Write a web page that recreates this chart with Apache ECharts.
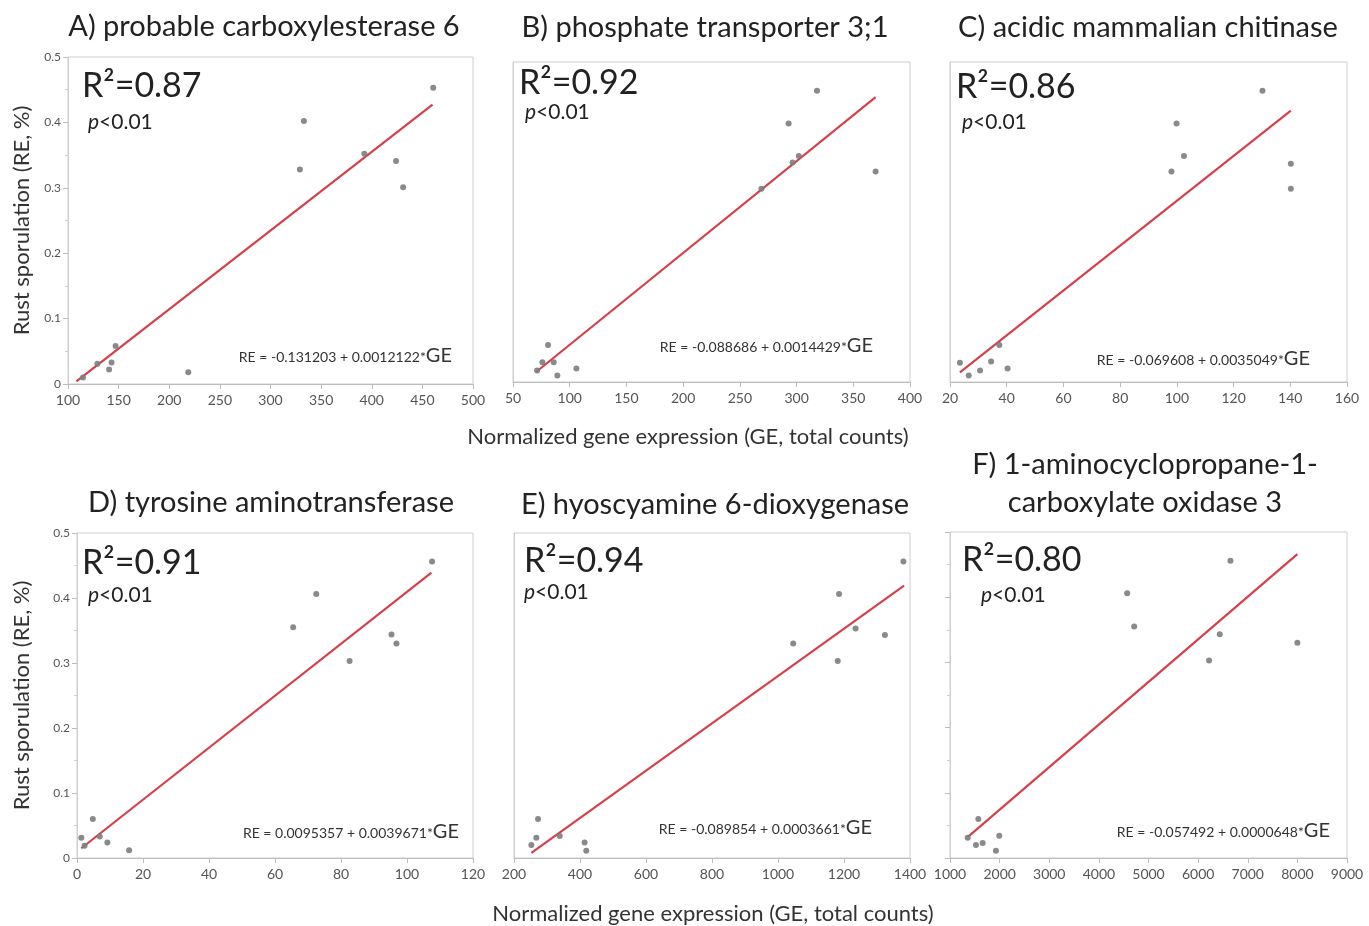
<!DOCTYPE html>
<html>
<head>
<meta charset="utf-8">
<title>Rust sporulation vs gene expression</title>
<script src="https://cdn.jsdelivr.net/npm/echarts@6/dist/echarts.min.js"></script>
<style>
  html, body { margin: 0; padding: 0; background: #fff; }
  #chart { width: 1369px; height: 926px; }
</style>
</head>
<body>
<div id="chart"></div>
<script>
// panel data (GE = x, RE = y)
var titles = ['A) probable carboxylesterase 6', 'B) phosphate transporter 3;1', 'C) acidic mammalian chitinase',
              'D) tyrosine aminotransferase', 'E) hyoscyamine 6-dioxygenase', 'F) 1-aminocyclopropane-1-\ncarboxylate oxidase 3'];
var r2Labels = ['0.87', '0.92', '0.86', '0.91', '0.94', '0.80'];
var equations = ['RE = -0.131203 + 0.0012122*', 'RE = -0.088686 + 0.0014429*', 'RE = -0.069608 + 0.0035049*',
                 'RE = 0.0095357 + 0.0039671*', 'RE = -0.089854 + 0.0003661*', 'RE = -0.057492 + 0.0000648*'];

var geA = [114.8, 129, 140.6, 143, 147, 218.8, 329, 333, 392.7, 424, 431, 460.7];
var reA = [0.010, 0.031, 0.022, 0.033, 0.058, 0.018, 0.328, 0.402, 0.352, 0.341, 0.301, 0.453];
var geB = [71.2, 75.9, 80.9, 85.9, 89.1, 105.9, 269, 293, 296.5, 302, 318, 369.7];
var reB = [0.018, 0.031, 0.058, 0.031, 0.010, 0.021, 0.302, 0.404, 0.343, 0.353, 0.455, 0.329];
var geC = [23.5, 26.6, 30.6, 34.5, 37.4, 40.3, 98.1, 99.9, 102.5, 130.2, 140.2, 140.2];
var reC = [0.030, 0.010, 0.018, 0.032, 0.058, 0.021, 0.329, 0.404, 0.353, 0.455, 0.341, 0.302];
var geD = [1.3, 2.3, 4.8, 6.9, 9.2, 15.8, 65.5, 72.5, 82.6, 95.3, 96.8, 107.6];
var reD = [0.031, 0.019, 0.060, 0.033, 0.024, 0.012, 0.355, 0.406, 0.303, 0.344, 0.330, 0.456];
var geE = [252.6, 267.7, 272.8, 338.5, 414, 419, 1046, 1181, 1185, 1235, 1324, 1380];
var reE = [0.020, 0.031, 0.060, 0.034, 0.024, 0.011, 0.330, 0.303, 0.406, 0.353, 0.343, 0.456];
var geF = [1356, 1523, 1570, 1658, 1926, 1993, 4570, 4711, 6220, 6436, 6651, 8000];
var reF = [0.031, 0.020, 0.060, 0.023, 0.011, 0.034, 0.406, 0.355, 0.303, 0.343, 0.456, 0.330];

// fitted line end points
var fitA = [[108.3, 0.004], [460, 0.427]];
var fitB = [[70.6, 0.016], [369.7, 0.445]];
var fitC = [[23.5, 0.015], [140.2, 0.424]];
var fitD = [[1.3, 0.015], [107.4, 0.439]];
var fitE = [[252.6, 0.008], [1382, 0.419]];
var fitF = [[1356, 0.032], [8000, 0.466]];

// x axis ticks: min, max, step
var xMins = [100, 50, 20, 0, 200, 1000];
var xMaxs = [500, 400, 160, 120, 1400, 9000];
var xSteps = [50, 50, 20, 20, 200, 1000];

var geAll = [geA, geB, geC, geD, geE, geF];
var reAll = [reA, reB, reC, reD, reE, reF];
var fitAll = [fitA, fitB, fitC, fitD, fitE, fitF];

var chart = echarts.init(document.getElementById('chart'));
var FONT = 'Lato, "Open Sans", sans-serif';

// plot boxes
var grids = [
    { left: 68, top: 57, width: 405, height: 327 },
    { left: 513, top: 62, width: 397, height: 320 },
    { left: 950, top: 62, width: 397, height: 320 },
    { left: 77, top: 533, width: 396, height: 325 },
    { left: 514, top: 533, width: 396, height: 325 },
    { left: 950, top: 532, width: 397, height: 326 }
];
// text anchors per panel
var titlePos = [[264, 27], [705, 28], [1148, 28], [271, 503], [715, 505], [1145, 484]];
var r2Pos = [[82, 86], [519, 83], [956, 87], [82, 563], [524, 561], [962, 560]];
var pPos = [[88, 122], [525, 112], [962, 122], [88, 595], [524, 592], [981, 595]];
var eqPos = [[452, 356], [873, 346], [1310, 359], [459, 832], [872, 828], [1330, 831]];

var xAxes = [], yAxes = [], series = [], graphics = [];

for (var i = 0; i < 6; i++) {
    grids[i].show = true;
    grids[i].borderColor = '#cfcfcf';
    grids[i].borderWidth = 1;
    grids[i].containLabel = false;

    xAxes.push({
        gridIndex: i, type: 'value',
        min: xMins[i], max: xMaxs[i], interval: xSteps[i],
        axisLine: { show: true, lineStyle: { color: '#bdbdbd' } },
        axisTick: { show: true, length: 5, lineStyle: { color: '#bdbdbd' } },
        axisLabel: {
            fontSize: 14, color: '#555', fontFamily: FONT, margin: 9,
            formatter: function (v) { return String(v); }
        },
        splitLine: { show: false }
    });

    var withLabels = (i == 0 || i == 3);
    var withTicks = (i == 0 || i == 3 || i == 5);
    yAxes.push({
        gridIndex: i, type: 'value', min: 0, max: 0.5, interval: 0.1,
        name: withLabels ? 'Rust sporulation (RE, %)' : '',
        nameLocation: 'middle', nameGap: i == 0 ? 35 : 44,
        nameTextStyle: { fontSize: 22, color: '#333', fontFamily: FONT },
        axisLine: { show: true, lineStyle: { color: '#cfcfcf' } },
        axisTick: { show: withTicks, length: 5, lineStyle: { color: '#bdbdbd' } },
        minorTick: { show: withTicks, splitNumber: 2, length: 3, lineStyle: { color: '#cfcfcf' } },
        axisLabel: { show: withLabels, fontSize: 12, color: '#555', fontFamily: FONT, margin: 7 },
        splitLine: { show: false }
    });

    var pts = [];
    for (var k = 0; k < geAll[i].length; k++) {
        pts.push([geAll[i][k], reAll[i][k]]);
    }
    series.push({
        type: 'scatter', xAxisIndex: i, yAxisIndex: i,
        data: pts, symbolSize: 6,
        itemStyle: { color: '#7d7d7d', opacity: 0.9 },
        z: 3
    });
    series.push({
        type: 'line', xAxisIndex: i, yAxisIndex: i,
        data: fitAll[i], showSymbol: false, symbol: 'none',
        lineStyle: { color: '#d6404c', width: 2.2 },
        z: 2
    });

    graphics.push({
        type: 'text', x: titlePos[i][0], y: titlePos[i][1],
        style: { text: titles[i], font: '29px ' + FONT, fill: '#222', align: 'center', verticalAlign: 'middle', lineHeight: 38 }
    });
    graphics.push({
        type: 'text', x: r2Pos[i][0], y: r2Pos[i][1],
        style: { text: 'R²=' + r2Labels[i], font: '34px ' + FONT, fill: '#222', align: 'left', verticalAlign: 'middle' }
    });
    graphics.push({
        type: 'text', x: pPos[i][0], y: pPos[i][1],
        style: {
            text: '{i|p}{n|<0.01}', align: 'left', verticalAlign: 'middle',
            rich: {
                i: { font: 'italic 21px ' + FONT, fill: '#222' },
                n: { font: '21px ' + FONT, fill: '#222' }
            }
        }
    });
    graphics.push({
        type: 'text', x: eqPos[i][0], y: eqPos[i][1],
        style: {
            text: '{s|' + equations[i] + '}{b|GE}', align: 'right', verticalAlign: 'middle',
            rich: {
                s: { font: '14px ' + FONT, fill: '#333', verticalAlign: 'bottom', padding: [0, 0, 2, 0] },
                b: { font: '20px ' + FONT, fill: '#333', verticalAlign: 'bottom' }
            }
        }
    });
}

// shared x axis titles
graphics.push({
    type: 'text', x: 688, y: 437,
    style: { text: 'Normalized gene expression (GE, total counts)', font: '22px ' + FONT, fill: '#333', align: 'center', verticalAlign: 'middle' }
});
graphics.push({
    type: 'text', x: 713, y: 914,
    style: { text: 'Normalized gene expression (GE, total counts)', font: '22px ' + FONT, fill: '#333', align: 'center', verticalAlign: 'middle' }
});

var option = {
    animation: false,
    backgroundColor: '#fff',
    grid: grids,
    xAxis: xAxes,
    yAxis: yAxes,
    series: series,
    graphic: graphics
};
chart.setOption(option);
</script>
</body>
</html>
